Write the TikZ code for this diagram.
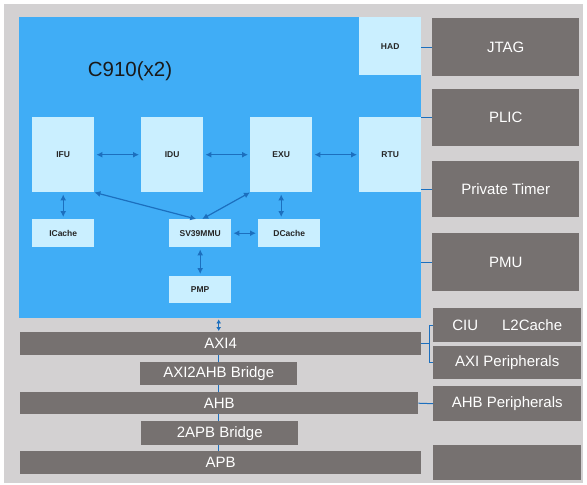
\documentclass[tikz,border=0pt]{standalone}
\usepackage{fontspec}
\setmainfont{Liberation Sans}
\usetikzlibrary{arrows.meta,positioning}
\definecolor{bgGray}{HTML}{D3D1D2}
\definecolor{panelBlue}{HTML}{40ADF6}
\definecolor{unitBlue}{HTML}{CAEFFF}
\definecolor{blockGray}{HTML}{767170}
\definecolor{linkBlue}{HTML}{1C6FBE}
\begin{document}
\begin{tikzpicture}[
  x=1pt, y=-1pt,
  every node/.style={inner sep=0pt, anchor=north west},
  unit/.style={fill=unitBlue, text=black!85, font=\bfseries\fontsize{8.5}{10}\selectfont},
  bigunit/.style={unit, minimum width=62pt, minimum height=75pt},
  smallunit/.style={unit, minimum width=62pt, minimum height=28pt},
  block/.style={fill=blockGray, text=white, font=\fontsize{15}{18}\selectfont},
  sidebox/.style={block, minimum width=147pt},
  bus/.style={block, minimum height=23pt},
  biarrow/.style={{Latex[length=6pt,width=6pt]}-{Latex[length=6pt,width=6pt]},
    draw=linkBlue, line width=1.2pt, shorten <=2pt, shorten >=2pt},
  wire/.style={draw=linkBlue, line width=1pt}
]
\useasboundingbox (0,0) rectangle (587,485);
\fill[bgGray] (4,4) rectangle (583,483);

% core
\node[fill=panelBlue, minimum width=402pt, minimum height=301pt] (panel) at (19,17) {};
\node[anchor=center, font=\fontsize{20.5}{24}\selectfont, text=black!90] (title) at (130,71) {C910(x2)};
\node[unit, minimum width=62pt, minimum height=58pt] (had) at (359,17) {HAD};
\node[bigunit] (ifu) at (32,117) {IFU};
\node[bigunit] (idu) at (141,117) {IDU};
\node[bigunit] (exu) at (250,117) {EXU};
\node[bigunit] (rtu) at (359,117) {RTU};
\node[smallunit] (icache) at (32,219) {ICache};
\node[smallunit] (mmu) at (169,219) {SV39MMU};
\node[smallunit] (dcache) at (258,219) {DCache};
\node[smallunit, minimum height=27pt] (pmp) at (169,276) {PMP};

% right side
\node[sidebox, minimum height=58pt] (jtag) at (432,18) {JTAG};
\node[sidebox, minimum height=57pt] (plic) at (432,89) {PLIC};
\node[sidebox, minimum height=56pt] (timer) at (432,161) {Private Timer};
\node[sidebox, minimum height=58pt] (pmu) at (432,233) {PMU};
\node[sidebox, minimum width=148pt, minimum height=34pt] (ciu) at (433,308) {CIU\hspace{24pt}L2Cache};
\node[sidebox, minimum width=148pt, minimum height=33pt] (axip) at (433,346) {AXI Peripherals};
\node[sidebox, minimum width=148pt, minimum height=35pt] (ahbp) at (433,386) {AHB Peripherals};
\node[sidebox, minimum width=148pt, minimum height=35pt] (apbp) at (433,445) {};

% buses
\node[bus, minimum width=401pt] (axi) at (20,332) {AXI4};
\node[bus, minimum width=157pt] (bridge) at (140,362) {AXI2AHB Bridge};
\node[bus, minimum width=398pt, minimum height=22pt] (ahb) at (20,392) {AHB};
\node[bus, minimum width=157pt, minimum height=24pt] (apbbridge) at (141,421) {2APB Bridge};
\node[bus, minimum width=401pt] (apb) at (20,451) {APB};

% links inside the core
\draw[biarrow] (ifu) -- (idu);
\draw[biarrow] (idu) -- (exu);
\draw[biarrow] (exu) -- (rtu);
\draw[biarrow] (ifu) -- (icache);
\draw[biarrow] (exu.south) -- (exu.south |- dcache.north);
\draw[biarrow] (mmu) -- (dcache);
\draw[biarrow] (mmu) -- (pmp);
\draw[biarrow, shorten <=0pt, shorten >=0pt] (ifu.south east) -- ([xshift=-4pt]mmu.north);
\draw[biarrow, shorten <=0pt, shorten >=0pt] (exu.south west) -- ([xshift=2pt]mmu.north);
\draw[{Latex[length=4pt,width=5pt]}-{Latex[length=4pt,width=5pt]}, draw=linkBlue, line width=1pt,
  shorten <=1pt, shorten >=1pt] (panel.south -| bridge) -- (axi.north -| bridge);

% bus wires
\draw[wire] (axi.south -| bridge) -- (bridge.north);
\draw[wire] (bridge.south) -- (ahb.north -| bridge);
\draw[wire] (ahb.south -| bridge) -- (apbbridge.north -| bridge);
\draw[wire] (apbbridge.south -| bridge) -- (apb.north -| bridge);

% side wires
\draw[wire] (jtag.west -| panel.east) -- (jtag.west);
\draw[wire] (plic.west -| panel.east) -- (plic.west);
\draw[wire] (timer.west -| panel.east) -- (timer.west);
\draw[wire] (pmu.west -| panel.east) -- (pmu.west);
\coordinate (br) at ([xshift=8pt]axi.east);
\draw[wire] (axi.east) -- (br);
\draw[wire] (ciu.west) -| (br);
\draw[wire] (axip.west) -| (br);
\draw[wire] (ahb.east) -- (ahbp.west);
\end{tikzpicture}
\end{document}
